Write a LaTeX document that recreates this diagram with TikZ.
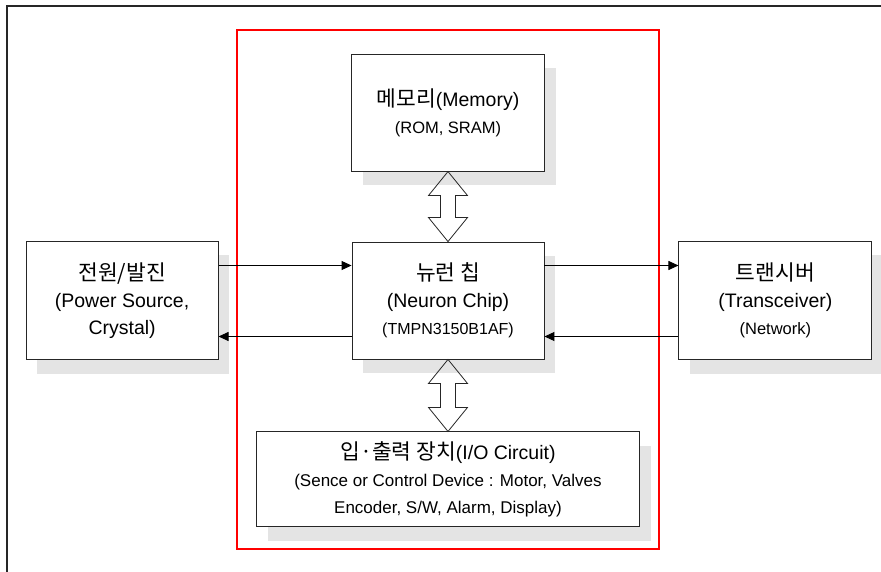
\documentclass[tikz,border=0pt]{standalone}
\usepackage{fontspec}
\setmainfont{Liberation Sans}
\newfontfamily\kr[Scale=1.1]{Noto Sans CJK KR}
\usetikzlibrary{arrows.meta, positioning, shadows}
\definecolor{shadowgray}{HTML}{E4E4E4}

\begin{document}
\begin{tikzpicture}[
  x=1pt, y=-1pt,
  blk/.style={
    rectangle, draw=black!85, fill=white, line width=0.9pt,
    align=center, inner sep=2pt,
    font=\fontsize{19.5}{27}\selectfont,
    drop shadow={shadow xshift=11pt, shadow yshift=-14pt,
      fill=shadowgray, opacity=1},
  },
  sig/.style={-{Triangle[length=10pt, width=9pt]}, draw=black, line width=1pt},
  hollow/.style={draw=black!85, line width=0.8pt, line join=miter},
  node distance=70pt and 133pt,
]
  \useasboundingbox (0,0) rectangle (881,572);

  % outer frame
  \draw[black!85, line width=1.1pt] (7,572) -- (7,6) -- (881,6);

  % Neuron Chip (center)
  \node[blk, minimum width=192pt, minimum height=117pt] (chip) at (448,300.5) {
    {\kr 뉴런 칩}\\
    (Neuron Chip)\\
    {\fontsize{16}{26}\selectfont (TMPN3150B1AF)}
  };

  % Memory (above)
  \node[blk, minimum width=193pt, minimum height=117pt, above=70pt of chip] (mem) {
    {\kr 메모리}(Memory)\\
    {\fontsize{16.5}{24}\selectfont (ROM, SRAM)}
  };

  % I/O Circuit (below)
  \node[blk, minimum width=383pt, minimum height=95pt, below=72pt of chip] (io) {
    {\kr 입·출력 장치}(I/O Circuit)\\
    {\fontsize{17}{24}\selectfont (Sence or Control Device : Motor, Valves}\\
    {\fontsize{17}{24}\selectfont Encoder, S/W, Alarm, Display)}
  };

  % Power Source (left)
  \node[blk, minimum width=192pt, minimum height=118pt, left=133pt of chip] (power) {
    {\kr 전원/발진}\\
    (Power Source,\\
    Crystal)
  };

  % Transceiver (right)
  \node[blk, minimum width=193pt, minimum height=118pt, right=134pt of chip] (trans) {
    {\kr 트랜시버}\\
    (Transceiver)\\
    {\fontsize{16.5}{22}\selectfont (Network)}
  };

  % red frame round the chip part
  \draw[red, line width=1.2pt] (237,30) rectangle (659,549);

  % signal arrows
  \draw[sig] ([yshift=35pt]power.east) -- ([yshift=35pt]chip.west);
  \draw[sig] ([yshift=-36pt]chip.west) -- ([yshift=-36pt]power.east);
  \draw[sig] ([yshift=35pt]chip.east) -- ([yshift=35pt]trans.west);
  \draw[sig] ([yshift=-36pt]trans.west) -- ([yshift=-36pt]chip.east);

  % hollow double arrows
  \draw[hollow] (mem.south) -- ++(19.5,24) -- ++(-12,0) -- ++(0,22) -- ++(12,0)
    -- (chip.north) -- ++(-19.5,-24) -- ++(12,0) -- ++(0,-22) -- ++(-12,0) -- cycle;
  \draw[hollow] (chip.south) -- ++(19.5,24) -- ++(-12,0) -- ++(0,24) -- ++(12,0)
    -- (io.north) -- ++(-19.5,-24) -- ++(12,0) -- ++(0,-24) -- ++(-12,0) -- cycle;

\end{tikzpicture}
\end{document}
